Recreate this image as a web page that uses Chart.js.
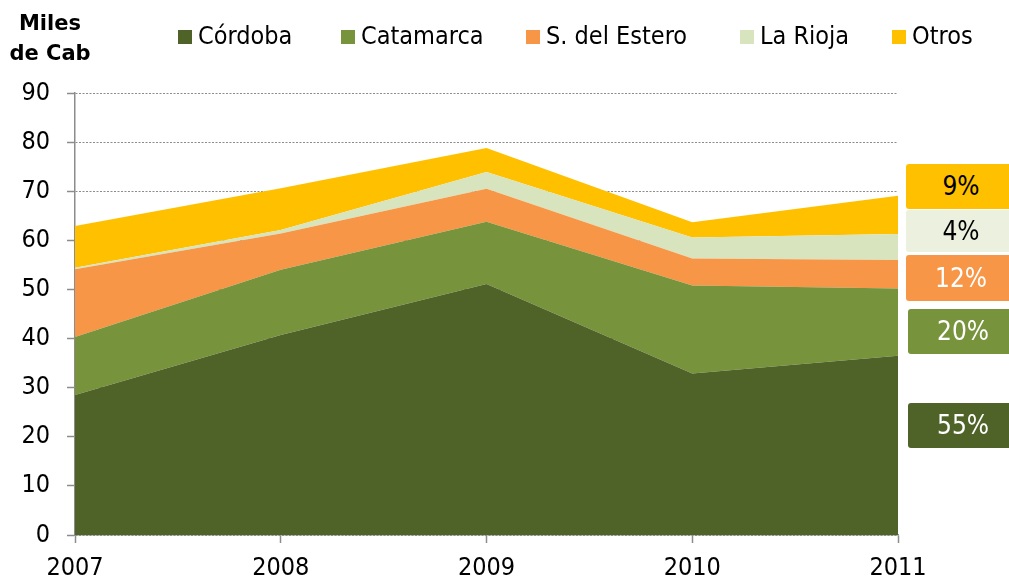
<!DOCTYPE html>
<html>
<head>
<meta charset="utf-8">
<script src="https://cdn.jsdelivr.net/npm/chart.js@4/dist/chart.umd.min.js"></script>
<style>
body{margin:0;background:#fff;}
#cadre{position:relative;width:1009px;height:581px;overflow:hidden;font-family:"DejaVu Sans Condensed","DejaVu Sans",sans-serif;}
#graph{position:absolute;left:0;top:0;}
#unite{position:absolute;left:0;top:8px;width:100px;text-align:center;font-family:"DejaVu Sans",sans-serif;font-weight:bold;font-size:21px;line-height:30px;color:#000;}
.leg{position:absolute;top:24px;font-size:25px;line-height:24px;color:#000;white-space:nowrap;}
.leg span{display:inline-block;width:14px;height:14px;margin-right:6px;vertical-align:0px;}
.pct{position:absolute;left:906px;width:110px;border-radius:3px;font-size:26px;text-align:center;}
</style>
</head>
<body>
<div id="cadre">
	<canvas id="graph" width="1009" height="581"></canvas>
	<div id="unite">Miles<br>de Cab</div>
	<div id="legende"></div>
	<div id="etiquettes"></div>
</div>
<script>
var annees = ['2007', '2008', '2009', '2010', '2011'];
var cordoba = [28.5, 40.7, 51.1, 32.9, 36.5];
var catamarca = [11.8, 13.3, 12.7, 17.9, 13.7];
var estero = [13.8, 7.4, 6.7, 5.5, 5.8];
var rioja = [0.3, 0.7, 3.4, 4.3, 5.3];
var otros = [8.5, 8.5, 4.9, 3.1, 7.8];

var noms = ['Córdoba', 'Catamarca', 'S. del Estero', 'La Rioja', 'Otros'];
var couleurs = ['#4F6228', '#77933C', '#F79646', '#D7E4BD', '#FFC000'];
var parts = ['9%', '4%', '12%', '20%', '55%'];

function serie(i, data){
	return {
		label: noms[i],
		data: data,
		backgroundColor: couleurs[i],
		borderColor: couleurs[i],
		borderWidth: 0,
		pointRadius: 0,
		tension: 0,
		fill: i == 0 ? 'origin' : '-1'
	};
}

function legende(){
	var pos = [178, 341, 526, 740, 892];
	var html = '';
	for (var i = 0; i < noms.length; i++){
		html += '<div class="leg" style="left:' + pos[i] + 'px"><span style="background:' + couleurs[i] + '"></span>' + noms[i] + '</div>';
	}
	document.getElementById('legende').innerHTML = html;
}

function etiquettes(){
	// boites a droite : de haut en bas Otros, La Rioja, Estero, Catamarca, Cordoba
	var haut = [164, 210, 255, 309, 403];
	var hauteur = [45, 42, 46, 45, 45];
	var fond = ['#FFC000', '#EBF1DE', '#F79646', '#77933C', '#4F6228'];
	var texte = ['#000', '#000', '#fff', '#fff', '#fff'];
	var html = '';
	for (var i = 0; i < parts.length; i++){
		var gauche = i < 3 ? 906 : 908;
		html += '<div class="pct" style="left:' + gauche + 'px;top:' + haut[i] + 'px;height:' + hauteur[i] + 'px;line-height:' + hauteur[i] + 'px;background:' + fond[i] + ';color:' + texte[i] + '">' + parts[i] + '</div>';
	}
	document.getElementById('etiquettes').innerHTML = html;
}

function graphique(id){
	var ctx = document.getElementById(id).getContext('2d');
	var police = {family: '"DejaVu Sans Condensed", "DejaVu Sans", sans-serif', size: 25};
	var myChart = new Chart(ctx, {
		type: 'line',
		data: {
			labels: annees,
			datasets: [serie(0, cordoba), serie(1, catamarca), serie(2, estero), serie(3, rioja), serie(4, otros)]
		},
		options: {
			responsive: false,
			animation: false,
			layout: {padding: {top: 93, right: 111, bottom: 0, left: 0}},
			plugins: {legend: {display: false}, tooltip: {enabled: false}},
			scales: {
				x: {
					offset: false,
					grid: {display: true, drawOnChartArea: false, drawTicks: true, tickLength: 8, tickColor: '#8c8c8c', tickWidth: 1.5},
					border: {display: true, color: '#8c8c8c', width: 1.5},
					ticks: {color: '#000', font: police, padding: 10, maxRotation: 0, autoSkip: false},
					afterFit: function(axe){ axe.height = 46; }
				},
				y: {
					stacked: true,
					min: 0,
					max: 90,
					grid: {color: '#8c8c8c', lineWidth: 1, tickLength: 8, tickColor: '#8c8c8c', tickWidth: 1.5},
					border: {display: true, color: '#8c8c8c', width: 1.5, dash: [2, 1.5]},
					ticks: {stepSize: 10, color: '#000', font: police, padding: 17},
					afterFit: function(axe){ axe.width = 75; }
				}
			}
		}
	});
}

legende();
etiquettes();
graphique('graph');
</script>
</body>
</html>
